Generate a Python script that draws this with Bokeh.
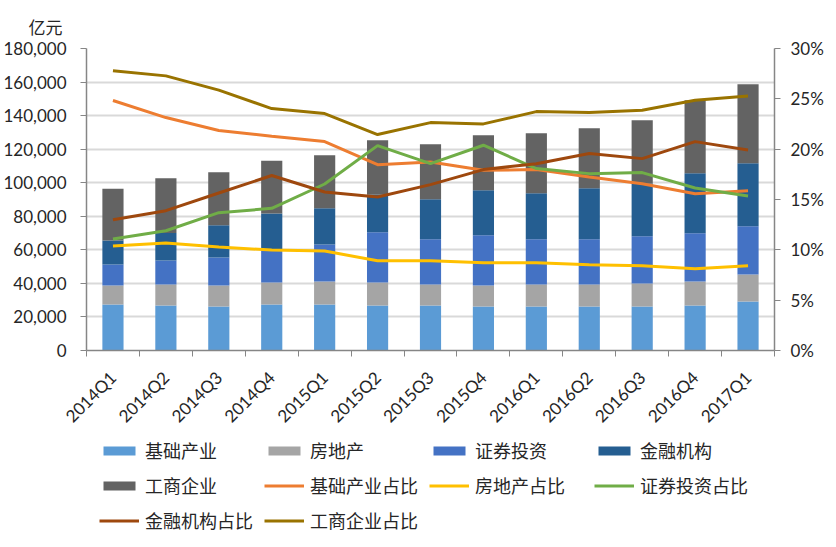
import math
from bokeh.plotting import figure
from bokeh.layouts import column
from bokeh.models import (ColumnDataSource, Range1d, LinearAxis, FixedTicker,
                          NumeralTickFormatter, PrintfTickFormatter, Legend,
                          LegendItem, CustomJSTickFormatter)
from bokeh.embed import file_html
from bokeh.resources import INLINE

categories = ["2014Q1", "2014Q2", "2014Q3", "2014Q4", "2015Q1", "2015Q2", "2015Q3",
              "2015Q4", "2016Q1", "2016Q2", "2016Q3", "2016Q4", "2017Q1"]

# stacked bar segments (亿元)
infra = [27450, 26850, 26255, 27450, 27450, 26850, 26850, 26255, 26255, 26255, 26255, 26850, 29238]
realestate = [11335, 12530, 12530, 13126, 13722, 13726, 12532, 12531, 13127, 13127, 13724, 14322, 16111]
securities = [12530, 14320, 16710, 19250, 22078, 29835, 26852, 29835, 26852, 26852, 28045, 28642, 28642]
financial = [14320, 16310, 19095, 21900, 21481, 22475, 23868, 26851, 27448, 30431, 31426, 35802, 37592]
industrial = [30830, 32620, 31625, 31426, 31626, 32421, 32818, 32819, 35802, 35802, 37768, 43559, 47139]

# shares (%)
pct_infra = [24.83, 23.14, 21.85, 21.28, 20.75, 18.46, 18.73, 17.90, 17.97, 17.24, 16.57, 15.58, 15.88]
pct_realestate = [10.38, 10.67, 10.28, 9.98, 9.88, 8.92, 8.92, 8.72, 8.72, 8.52, 8.42, 8.12, 8.42]
pct_securities = [11.07, 11.90, 13.69, 14.12, 16.54, 20.35, 18.56, 20.39, 18.07, 17.57, 17.67, 16.14, 15.35]
pct_financial = [12.99, 13.89, 15.65, 17.38, 15.75, 15.25, 16.48, 17.97, 18.56, 19.56, 19.06, 20.75, 19.92]
pct_industrial = [27.78, 27.28, 25.86, 24.03, 23.54, 21.45, 22.64, 22.51, 23.73, 23.64, 23.87, 24.86, 25.29]

left_ticks = [0, 20000, 40000, 60000, 80000, 100000, 120000, 140000, 160000, 180000]
right_ticks = [0, 5, 10, 15, 20, 25, 30]

bar_names = ["基础产业", "房地产", "证券投资", "金融机构", "工商企业"]
bar_colors = ["#5B9BD5", "#A5A5A5", "#4472C4", "#255E91", "#636363"]
line_names = ["基础产业占比", "房地产占比", "证券投资占比", "金融机构占比", "工商企业占比"]
line_colors = ["#ED7D31", "#FFC000", "#70AD47", "#9E480E", "#997300"]

n = len(categories)
xs = [i + 0.5 for i in range(n)]

src = ColumnDataSource(dict(
    x=xs, infra=infra, realestate=realestate, securities=securities,
    financial=financial, industrial=industrial,
    p_infra=pct_infra, p_realestate=pct_realestate, p_securities=pct_securities,
    p_financial=pct_financial, p_industrial=pct_industrial))

TICK_FONT = "Lato"
CJK_FONT = "Noto Sans CJK SC"
TEXT_COLOR = "#262626"
AXIS_COLOR = "#868686"

p = figure(width=828, height=436, output_backend="svg", toolbar_location=None,
           x_range=Range1d(0, n), y_range=Range1d(0, 180000),
           min_border_left=78, min_border_right=54, min_border_top=48,
           min_border_bottom=80)
p.outline_line_color = None
p.extra_y_ranges = {"pct": Range1d(0, 30)}

# unit label as title
p.title.text = "亿元"
p.title.align = "left"
p.title.offset = -58
p.title.standoff = 20
p.title.text_font = CJK_FONT
p.title.text_font_size = "17px"
p.title.text_font_style = "normal"
p.title.text_color = TEXT_COLOR

# grid
p.xgrid.visible = False
p.ygrid.ticker = FixedTicker(ticks=left_ticks)
p.ygrid.grid_line_color = "#D9D9D9"
p.ygrid.grid_line_width = 2

# bars
stack_keys = ["infra", "realestate", "securities", "financial", "industrial"]
p.vbar_stack(stack_keys, x="x", width=0.4, color=bar_colors, source=src, line_color=None)

line_keys = ["p_infra", "p_realestate", "p_securities", "p_financial", "p_industrial"]
for key, col in zip(line_keys, line_colors):
    p.line("x", key, source=src, y_range_name="pct", line_color=col, line_width=3)

# axes
yax = p.yaxis[0]
yax.ticker = FixedTicker(ticks=left_ticks)
yax.formatter = NumeralTickFormatter(format="0,0")
yax.axis_line_color = AXIS_COLOR
yax.axis_line_width = 1.5
yax.major_tick_line_color = AXIS_COLOR
yax.major_tick_out = 6
yax.major_tick_in = 0
yax.minor_tick_line_color = None
yax.major_label_text_font = TICK_FONT
yax.major_label_text_font_size = "17px"
yax.major_label_text_color = TEXT_COLOR
yax.major_label_standoff = 14

rax = LinearAxis(y_range_name="pct", ticker=FixedTicker(ticks=right_ticks),
                 formatter=PrintfTickFormatter(format="%d%%"))
rax.axis_line_color = AXIS_COLOR
rax.axis_line_width = 1.5
rax.major_tick_line_color = AXIS_COLOR
rax.major_tick_out = 6
rax.major_tick_in = 0
rax.minor_tick_line_color = None
rax.major_label_text_font = TICK_FONT
rax.major_label_text_font_size = "17px"
rax.major_label_text_color = TEXT_COLOR
rax.major_label_standoff = 10
p.add_layout(rax, "right")

xax = p.xaxis[0]
xax.ticker = FixedTicker(ticks=xs, minor_ticks=list(range(n + 1)))
xax.formatter = CustomJSTickFormatter(args=dict(cats=categories),
                                      code="return cats[Math.floor(tick)] || '';")
xax.axis_line_color = AXIS_COLOR
xax.axis_line_width = 1.5
xax.major_tick_line_color = None
xax.minor_tick_line_color = AXIS_COLOR
xax.minor_tick_out = 6
xax.minor_tick_in = 0
xax.major_label_orientation = math.pi / 4
xax.major_label_text_font = TICK_FONT
xax.major_label_text_font_size = "17px"
xax.major_label_text_color = TEXT_COLOR
xax.major_label_standoff = 18

# legend in its own strip below the chart; its swatch glyphs sit outside the visible range
lg = figure(width=828, height=104, output_backend="svg", toolbar_location=None,
            x_axis_type=None, y_axis_type=None, x_range=Range1d(0, 1), y_range=Range1d(0, 1),
            min_border_left=78, min_border_right=54, min_border_top=0, min_border_bottom=0)
lg.outline_line_color = None
lg.grid.visible = False
items = []
for nm, col in zip(bar_names, bar_colors):
    r = lg.vbar(x=[-5], top=[-5], width=0.4, color=col, line_color=None)
    items.append(LegendItem(label=nm, renderers=[r]))
for nm, col in zip(line_names, line_colors):
    r = lg.line(x=[-5, -4], y=[-5, -5], line_color=col, line_width=3)
    items.append(LegendItem(label=nm, renderers=[r]))
legend = Legend(items=items, ncols=4, orientation="horizontal", location=(13, 7),
                glyph_width=40, glyph_height=11, label_standoff=6, label_width=110,
                spacing=9, padding=0, margin=0,
                label_text_font=CJK_FONT, label_text_font_size="18px",
                label_text_color=TEXT_COLOR,
                border_line_color=None, background_fill_alpha=0)
lg.add_layout(legend, "center")

layout = column(p, lg, spacing=0)

open("out.html", "w").write(file_html(layout, INLINE))
